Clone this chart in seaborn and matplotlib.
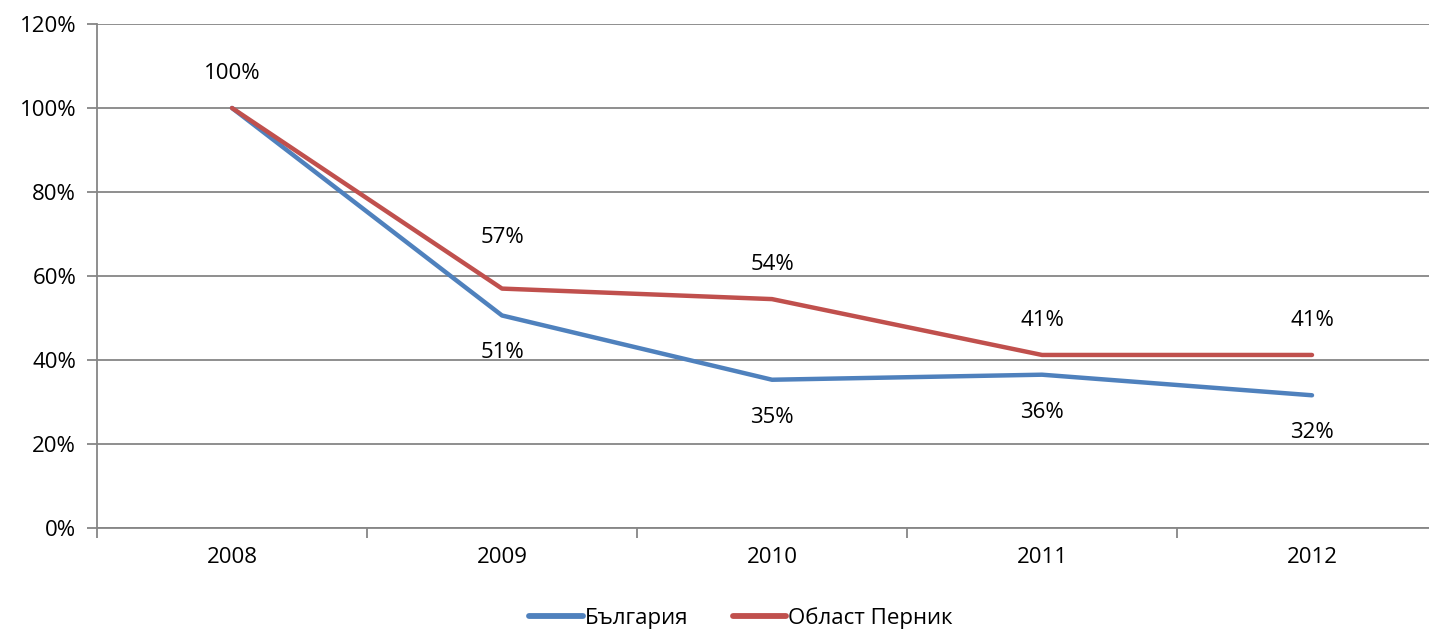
import numpy as np
import pandas as pd
import matplotlib.pyplot as plt
import seaborn as sns

years = ['2008', '2009', '2010', '2011', '2012']
bulgaria = [100.0, 50.6, 35.3, 36.5, 31.6]
pernik = [100.0, 57.0, 54.5, 41.2, 41.2]
series_names = ['България', 'Област Перник']
colors = ['#4F81BD', '#C0504D']

sns.set_style('white')
plt.rcParams['font.family'] = ['Open Sans', 'DejaVu Sans']
plt.rcParams['text.color'] = 'black'
plt.rcParams['xtick.labelcolor'] = 'black'
plt.rcParams['ytick.labelcolor'] = 'black'

df = pd.DataFrame({
    'year': years * 2,
    'value': bulgaria + pernik,
    'series': [series_names[0]] * len(years) + [series_names[1]] * len(years),
})
df['x'] = df['year'].map({y: i for i, y in enumerate(years)})

fig = plt.figure(figsize=(14.29, 6.31), dpi=100)
ax = fig.add_axes([97 / 1429, 103 / 631, 1350 / 1429, 504 / 631])

sns.lineplot(data=df, x='x', y='value', hue='series', hue_order=series_names,
             palette=colors, linewidth=3.2, ax=ax, legend=False,
             solid_capstyle='round')

fs = 16
ax.set_xlim(-0.5, 4.5)
ax.set_ylim(0, 120)
ax.set_yticks(np.arange(0, 121, 20))
ax.set_yticklabels([f'{v}%' for v in range(0, 121, 20)])
ax.set_xticks(range(len(years)))
ax.set_xticklabels(years)
ax.set_xticks(np.arange(-0.5, 4.6, 1), minor=True)
ax.tick_params(axis='x', which='major', bottom=True, length=0, pad=14, labelsize=fs)
ax.tick_params(axis='x', which='minor', bottom=True, length=7, width=1.3,
               color='#868686', direction='out')
ax.tick_params(axis='y', left=True, length=7, width=1.3, color='#868686',
               direction='out', pad=8, labelsize=fs)
ax.grid(axis='y', color='#868686', linewidth=1.3)
ax.set_axisbelow(True)
for s in ['top', 'right']:
    ax.spines[s].set_visible(False)
for s in ['left', 'bottom']:
    ax.spines[s].set_color('#868686')
    ax.spines[s].set_linewidth(1.3)
ax.set_xlabel('')
ax.set_ylabel('')

# data labels: Перник above, България below (2008 shown once)
pernik_off = [25, 37, 25, 25, 25]
bg_off = [-27, -27, -27, -27, -27]
for i, (b, p) in enumerate(zip(bulgaria, pernik)):
    ax.annotate(f'{p:.0f}%', (i, p), xytext=(0, pernik_off[i]), textcoords='offset points',
                ha='center', va='center', fontsize=fs)
    if i > 0:
        ax.annotate(f'{b:.0f}%', (i, b), xytext=(0, bg_off[i]), textcoords='offset points',
                    ha='center', va='center', fontsize=fs)

handles = [plt.Line2D([], [], color=c, lw=4.2, solid_capstyle='round') for c in colors]
fig.legend(handles, series_names, loc='center', bbox_to_anchor=(741 / 1429, 13 / 631),
           ncol=2, frameon=False, fontsize=fs, handlelength=2.4, handletextpad=0.1,
           columnspacing=2.0)

fig.savefig('out.png', dpi=100)
